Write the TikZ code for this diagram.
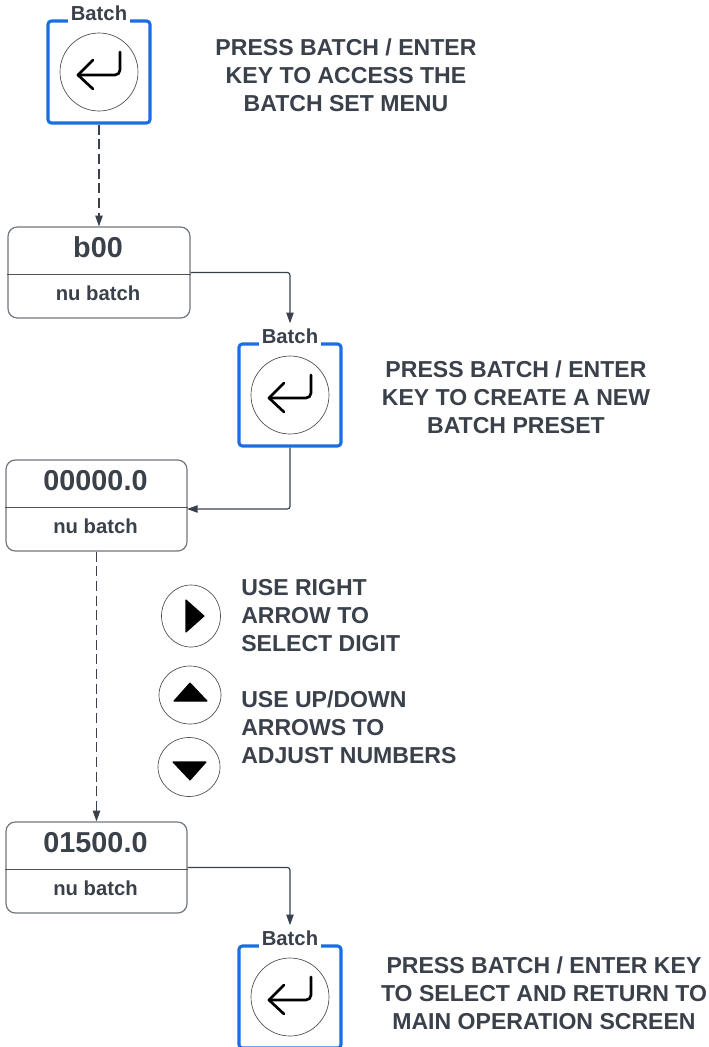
\documentclass[tikz,border=0pt]{standalone}
\usepackage{fontspec}
\setmainfont{Liberation Sans}
\usetikzlibrary{arrows.meta}
\definecolor{inkColor}{RGB}{58,65,75}
\definecolor{boxColor}{RGB}{112,118,126}
\definecolor{keyColor}{RGB}{26,110,226}
\tikzstyle{flow} = [x = .75pt, y = -.75pt]
\tikzstyle{frameStyle} = [draw=keyColor, line width=2.3pt, rounded corners=2.5pt, minimum size=76.5pt, inner sep=0pt]
\tikzstyle{keyLabel} = [fill=white, text=inkColor, font=\fontsize{15.2}{15}\selectfont\bfseries, minimum height=19.5pt, inner xsep=2pt, inner ysep=0pt]
\tikzstyle{keyCircle} = [draw=black!70, line width=.5pt, circle, minimum size=58.5pt, inner sep=0pt]
\tikzstyle{enterArrow} = [black, line width=2pt, line cap=round, line join=round]
\tikzstyle{displayStyle} = [draw=boxColor, line width=.9pt, rounded corners=7pt, minimum height=68.25pt, inner sep=0pt]
\tikzstyle{displayLine} = [draw=boxColor!70!black, line width=.9pt]
\tikzstyle{displayTitle} = [text=inkColor, font=\fontsize{21.6}{21}\selectfont\bfseries]
\tikzstyle{displaySub} = [text=inkColor, font=\fontsize{15.2}{15}\selectfont\bfseries]
\tikzstyle{noteCentre} = [text=inkColor, align=center, font=\fontsize{17.3}{21}\selectfont\bfseries]
\tikzstyle{noteLeft} = [text=inkColor, align=left, anchor=west, inner sep=0pt, font=\fontsize{17.3}{21}\selectfont\bfseries]
\tikzstyle{link} = [draw=inkColor, line width=.9pt, rounded corners=2pt, -{Triangle[length=8pt,width=5.5pt]}]
\tikzstyle{dashLink} = [link, dash pattern=on 7.5pt off 3.5pt]
\tikzstyle{arrowCircle} = [draw=black!70, line width=.5pt]
\tikzstyle{arrowHead} = [fill=black, draw=black, line width=.8pt, line join=round]
\newcommand{\batchKey}[3]{
  \node [frameStyle] (#1) at (#2, #3) {};
  \node [keyLabel] (#1Label) at (#2, #3 - 58.5) {Batch};
  \node [keyCircle] (#1Circle) at (#2, #3) {};
  \draw [enterArrow] (#2 + 21, #3 - 20) -- (#2 + 21, #3 - 2) arc (0:90:5) -- (#2 - 21, #3 + 3);
  \draw [enterArrow] (#2 - 6, #3 - 12) -- (#2 - 21, #3 + 3) -- (#2 - 6, #3 + 17);
}
\newcommand{\displayBox}[5]{
  \node [displayStyle, minimum width=#4 * .75pt] (#1) at (#2 + #4 / 2, #3 + 45.5) {};
  \draw [displayLine] (#1.west |- 0, #3 + 47.5) -- (#1.east |- 0, #3 + 47.5);
  \node [displayTitle] (#1Title) at (#2 + #4 / 2 - 1, #3 + 20.5) {#5};
  \node [displaySub] (#1Sub) at (#2 + #4 / 2 - 1, #3 + 66.5) {nu batch};
}
\begin{document}
\begin{tikzpicture}[flow]
  \useasboundingbox (0,0) rectangle (708,1047);

  \batchKey{keyAccess}{99}{72}
  \batchKey{keyCreate}{290}{395}
  \batchKey{keyReturn}{290}{997}

  \displayBox{boxStart}{8}{227}{182}{b00}
  \displayBox{boxZero}{6}{460}{181}{00000.0}
  \displayBox{boxSet}{6}{822}{181}{01500.0}

  \node [noteCentre] (noteAccess) at (346, 75) {PRESS BATCH / ENTER\\KEY TO ACCESS THE\\BATCH SET MENU};
  \node [noteCentre] (noteCreate) at (516, 397) {PRESS BATCH / ENTER\\KEY TO CREATE A NEW\\BATCH PRESET};
  \node [noteCentre] (noteReturn) at (544, 993) {PRESS BATCH / ENTER KEY\\TO SELECT AND RETURN TO\\MAIN OPERATION SCREEN};
  \node [noteLeft] (noteDigit) at (241, 616) {USE RIGHT\\ARROW TO\\SELECT DIGIT};
  \node [noteLeft] (noteAdjust) at (241, 727) {USE UP/DOWN\\ARROWS TO\\ADJUST NUMBERS};

  % arrow keys
  \draw [arrowCircle] (191, 616) ellipse (29.5 and 31);
  \filldraw [arrowHead] (186, 600) -- (204, 616) -- (186, 632) -- cycle;
  \draw [arrowCircle] (190, 695) ellipse (31 and 29);
  \filldraw [arrowHead] (174, 701) -- (190, 683) -- (207, 701) -- cycle;
  \draw [arrowCircle] (189, 767) ellipse (31 and 29.5);
  \filldraw [arrowHead] (173, 762) -- (206, 762) -- (190, 780) -- cycle;

  \coordinate (entryZero) at (187, 509);
  \draw [dashLink] (keyAccess.south) -- (boxStart.north -| keyAccess.south);
  \draw [link] (boxStart.east) -| (keyCreateLabel.north);
  \draw [link] (keyCreate.south) |- (entryZero);
  \draw [dashLink] (boxZero.south) -- (boxSet.north);
  \draw [link] (boxSet.east) -| (keyReturnLabel.north);
\end{tikzpicture}
\end{document}
